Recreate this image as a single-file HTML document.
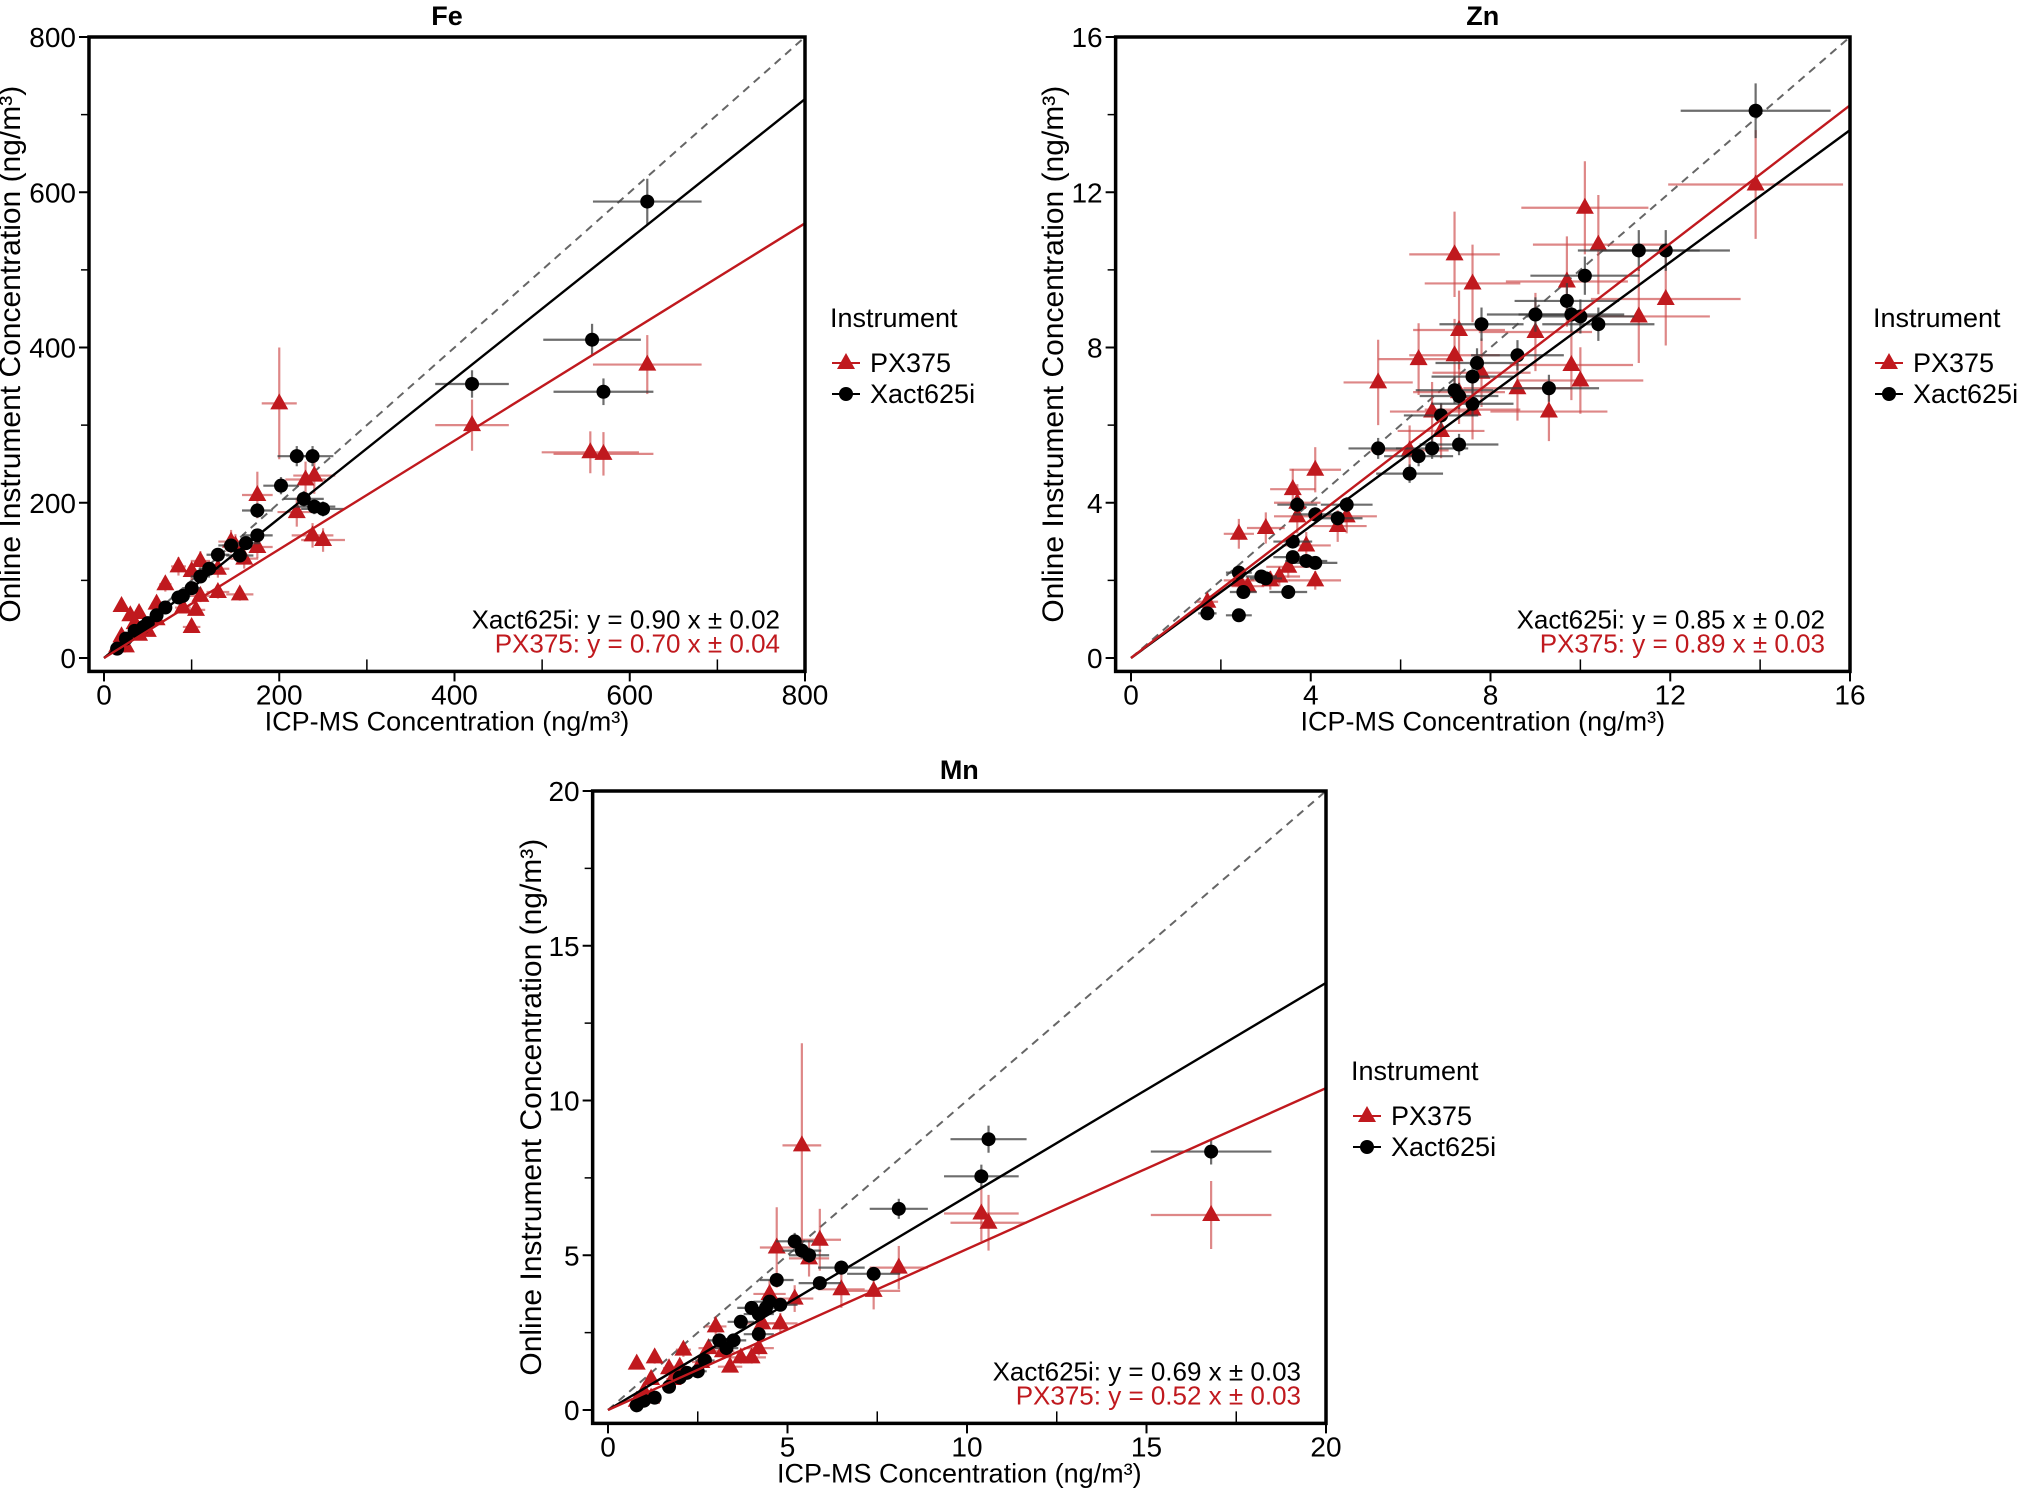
<!DOCTYPE html>
<html><head><meta charset="utf-8"><style>
body{margin:0;background:#fff;}
svg{display:block;font-family:"Liberation Sans",sans-serif;}
</style></head><body>
<svg id="c" width="2020" height="1489" viewBox="0 0 2020 1489"></svg>
<script>
// ---- Fe data ----
const feXactX=[620,557,570,420,220,238,202,228,240,250,175,175,162,155,130,110,100,85,70,50,35,25,15,45,60,90,120,145];
const feXactY=[588,410,343,353,260,260,222,205,195,192,190,158,148,132,133,105,90,78,65,45,35,25,12,40,55,80,115,145];
const fePxX=[620,420,555,570,200,175,240,230,220,238,250,145,160,175,110,100,85,70,60,40,20,30,130,155,100,105,90,110,50,40,20,15,25,60,130,150,35];
const fePxY=[378,300,265,263,328,210,235,230,188,158,152,150,128,143,125,112,118,95,70,58,67,55,85,82,40,62,65,80,35,30,28,15,15,50,115,145,45];
const fePxBigErr={0:38,1:33,2:27,3:28,4:72,5:30};
const feTicks=[0,200,400,600,800];
const feMinor=[100,300,500,700];
const feSlopes=[0.90,0.70];
// ---- Zn data ----
const znXactX=[13.9,11.3,11.9,10.1,9.7,9.0,9.8,10.0,10.4,7.8,8.6,7.7,7.6,9.3,7.2,7.3,7.6,6.9,6.7,6.4,5.5,7.3,6.2,4.8,4.6,4.1,3.7,3.6,3.6,3.9,4.1,2.4,2.5,3.5,2.9,1.7,2.4,3.0];
const znXactY=[14.1,10.5,10.5,9.85,9.2,8.85,8.85,8.8,8.6,8.6,7.8,7.6,7.25,6.95,6.9,6.75,6.55,6.25,5.4,5.2,5.4,5.5,4.75,3.95,3.6,3.7,3.95,3.0,2.6,2.5,2.45,2.2,1.7,1.7,2.1,1.15,1.1,2.05];
const znPxX=[13.9,10.1,10.4,7.2,7.6,9.7,9.0,11.3,11.9,7.3,6.4,7.2,7.8,9.8,10.0,8.6,9.3,7.6,6.7,7.3,6.9,5.5,6.2,4.1,3.6,3.7,3.7,4.8,4.6,3.0,2.4,3.9,3.5,3.3,4.1,3.1,2.6,1.7,2.4];
const znPxY=[12.2,11.6,10.65,10.4,9.65,9.7,8.4,8.8,9.25,8.45,7.7,7.8,7.35,7.55,7.15,6.95,6.35,6.4,6.35,6.85,5.85,7.1,5.35,4.85,4.35,4.0,3.65,3.65,3.4,3.35,3.2,2.9,2.35,2.1,2.0,2.0,1.85,1.45,2.0];
const znPxBigErr={0:1.4,1:1.2,3:1.1,4:1.0,7:1.2,8:1.2,21:1.1};
const znTicks=[0,4,8,12,16];
const znMinor=[2,6,10,14];
const znSlopes=[0.85,0.89];
// ---- Mn data ----
const mnXactX=[16.8,10.6,10.4,8.1,5.2,5.4,5.6,6.5,7.4,4.7,5.9,4.8,4.4,4.0,4.2,4.5,3.7,4.2,3.5,3.1,3.3,2.5,2.2,2.0,1.7,1.3,0.8,1.0,2.7];
const mnXactY=[8.35,8.75,7.55,6.5,5.45,5.15,5.0,4.6,4.4,4.2,4.1,3.4,3.3,3.3,3.1,3.5,2.85,2.45,2.25,2.25,2.0,1.25,1.2,1.05,0.75,0.4,0.15,0.3,1.6];
const mnPxX=[16.8,10.4,10.6,8.1,7.4,6.5,5.4,5.9,5.6,4.7,4.5,5.2,4.8,4.3,4.2,4.0,3.7,3.4,3.0,2.8,2.1,1.3,0.8,1.7,2.6,1.2,1.0,1.2,0.8,1.8,3.2,2.0];
const mnPxY=[6.3,6.35,6.05,4.6,3.85,3.9,8.55,5.5,4.9,5.25,3.75,3.6,2.8,2.8,2.0,1.7,1.7,1.4,2.7,2.0,1.95,1.7,1.5,1.35,1.55,1.0,0.6,0.4,0.3,1.0,1.9,1.4];
const mnPxBigErr={0:1.1,1:0.9,2:0.9,3:0.7,6:3.3,7:1.0,9:1.3,4:0.6,5:0.6};
const mnTicks=[0,5,10,15,20];
const mnMinor=[2.5,7.5,12.5,17.5];
const mnSlopes=[0.69,0.52];

const svg=document.getElementById('c');
const NS='http://www.w3.org/2000/svg';
const RED='#c0191e';
function mk(tag,attrs,parent){const e=document.createElementNS(NS,tag);for(const k in attrs)e.setAttribute(k,attrs[k]);(parent||svg).appendChild(e);return e;}
function txt(s,attrs,parent){const e=mk('text',attrs,parent);e.textContent=s;return e;}

function panel(o){
  const g=mk('g',{});
  
  
  const max=o.max;
  const sx=v=>o.x0+(o.x1-o.x0)*v/max;
  const sy=v=>o.y0-(o.y0-o.y1)*v/max;
  const L=sx(-0.02*max)-1,B=sy(-0.02*max)+1;
  function pts(X,Y,color,barColor,tri,nm,ex,ey,big){
    const gg=mk('g',{},g);
    
    
    for(let i=0;i<X.length;i++){
      const x=X[i],y=Y[i];
      const e=(big&&big[i]!==undefined)?big[i]:y*ey;
      const l1=mk('line',{x1:sx(x*(1-ex)),x2:sx(x*(1+ex)),y1:sy(y),y2:sy(y),stroke:barColor,'stroke-width':2.2},gg);
      
      
      const l2=mk('line',{x1:sx(x),x2:sx(x),y1:sy(y-e),y2:sy(y+e),stroke:barColor,'stroke-width':2.2},gg);
      
      
    }
    for(let i=0;i<X.length;i++){
      const cx=sx(X[i]),cy=sy(Y[i]);
      let p;
      if(tri)p=mk('polygon',{points:`${cx},${cy-10} ${cx-9},${cy+6} ${cx+9},${cy+6}`,fill:color},gg);
      else p=mk('circle',{cx:cx,cy:cy,r:7,fill:color},gg);
      
      
    }
  }
  const d=mk('line',{x1:sx(0),y1:sy(0),x2:sx(max),y2:sy(max),stroke:'#666','stroke-width':2,'stroke-dasharray':'8,6'},g);
  
  
  pts(o.pxX,o.pxY,RED,'rgba(205,70,70,0.65)',true,'px375-series',o.pex,o.pey,o.big);
  pts(o.xX,o.xY,'#000','rgba(60,60,60,0.75)',false,'xact625i-series',o.xex,0.05,null);
  const fb=mk('line',{x1:sx(0),y1:sy(0),x2:sx(max),y2:sy(max*o.slopes[0]),stroke:'#000','stroke-width':2.4},g);
  
  
  const fr=mk('line',{x1:sx(0),y1:sy(0),x2:sx(max),y2:sy(max*o.slopes[1]),stroke:RED,'stroke-width':2.4},g);
  
  
  const bx=mk('rect',{x:L,y:sy(max),width:sx(max)-L,height:B-sy(max),fill:'none',stroke:'#000','stroke-width':3.5},g);
  
  
  o.ticks.forEach(t=>{
    mk('line',{x1:L-10,x2:L,y1:sy(t),y2:sy(t),stroke:'#000','stroke-width':2},g);
    mk('line',{x1:sx(t),x2:sx(t),y1:B,y2:B+10,stroke:'#000','stroke-width':2},g);
    const yl=txt(String(t),{x:L-13,y:sy(t)+10,'text-anchor':'end','font-size':28},g);
    
    
    const xl=txt(String(t),{x:sx(t),y:B+33,'text-anchor':'middle','font-size':28},g);
    
    
  });
  o.minor.forEach(t=>{
    mk('line',{x1:L-8,x2:L,y1:sy(t),y2:sy(t),stroke:'#000','stroke-width':1.5},g);
    mk('line',{x1:sx(t),x2:sx(t),y1:B,y2:B-12,stroke:'#000','stroke-width':1.5},g);
  });
  const cxm=(L+sx(max))/2;
  const t=txt(o.name,{x:cxm,y:sy(max)-12,'text-anchor':'middle','font-size':27,'font-weight':'bold'},g);
  
  
  const xt=txt('ICP-MS Concentration (ng/m³)',{x:cxm,y:B+59,'text-anchor':'middle','font-size':27},g);
  
  
  const cym=(B+sy(max))/2;
  const yt=txt('Online Instrument Concentration (ng/m³)',{x:0,y:0,'text-anchor':'middle','font-size':30,transform:`translate(${o.ytx},${cym}) rotate(-90)`},g);
  
  
  const a1=txt('Xact625i: y = '+o.slopes[0].toFixed(2)+' x ± '+o.err[0],{x:sx(max)-25,y:B-43,'text-anchor':'end','font-size':26},g);
  
  
  const a2=txt('PX375: y = '+o.slopes[1].toFixed(2)+' x ± '+o.err[1],{x:sx(max)-25,y:B-19,'text-anchor':'end','font-size':26,fill:RED},g);
  
  
  const lg=mk('g',{},g);
  
  
  const lx=o.lx,ly=o.ly;
  txt('Instrument',{x:lx,y:ly,'font-size':27},lg);
  mk('line',{x1:lx+2,x2:lx+30,y1:ly+36,y2:ly+36,stroke:RED,'stroke-width':2},lg);
  mk('polygon',{points:`${lx+16},${ly+26} ${lx+7},${ly+42} ${lx+25},${ly+42}`,fill:RED},lg);
  const e1=txt('PX375',{x:lx+40,y:ly+45,'font-size':27},lg);
  
  
  mk('line',{x1:lx+2,x2:lx+30,y1:ly+67,y2:ly+67,stroke:'#000','stroke-width':2},lg);
  mk('circle',{cx:lx+16,cy:ly+67,r:7,fill:'#000'},lg);
  const e2=txt('Xact625i',{x:lx+40,y:ly+76,'font-size':27},lg);
  
  
}
panel({name:'Fe',max:800,x0:104,x1:805,y0:658,y1:37,ticks:feTicks,minor:feMinor,slopes:feSlopes,err:['0.02','0.04'],xX:feXactX,xY:feXactY,pxX:fePxX,pxY:fePxY,big:fePxBigErr,pex:0.1,pey:0.1,xex:0.1,ytx:20,lx:830,ly:327});
panel({name:'Zn',max:16,x0:1131,x1:1850,y0:658,y1:37,ticks:znTicks,minor:znMinor,slopes:znSlopes,err:['0.02','0.03'],xX:znXactX,xY:znXactY,pxX:znPxX,pxY:znPxY,big:znPxBigErr,pex:0.14,pey:0.12,xex:0.12,ytx:1063,lx:1873,ly:327});
panel({name:'Mn',max:20,x0:608,x1:1326,y0:1410,y1:791,ticks:mnTicks,minor:mnMinor,slopes:mnSlopes,err:['0.03','0.03'],xX:mnXactX,xY:mnXactY,pxX:mnPxX,pxY:mnPxY,big:mnPxBigErr,pex:0.1,pey:0.12,xex:0.1,ytx:541,lx:1351,ly:1080});
</script>
</body></html>
